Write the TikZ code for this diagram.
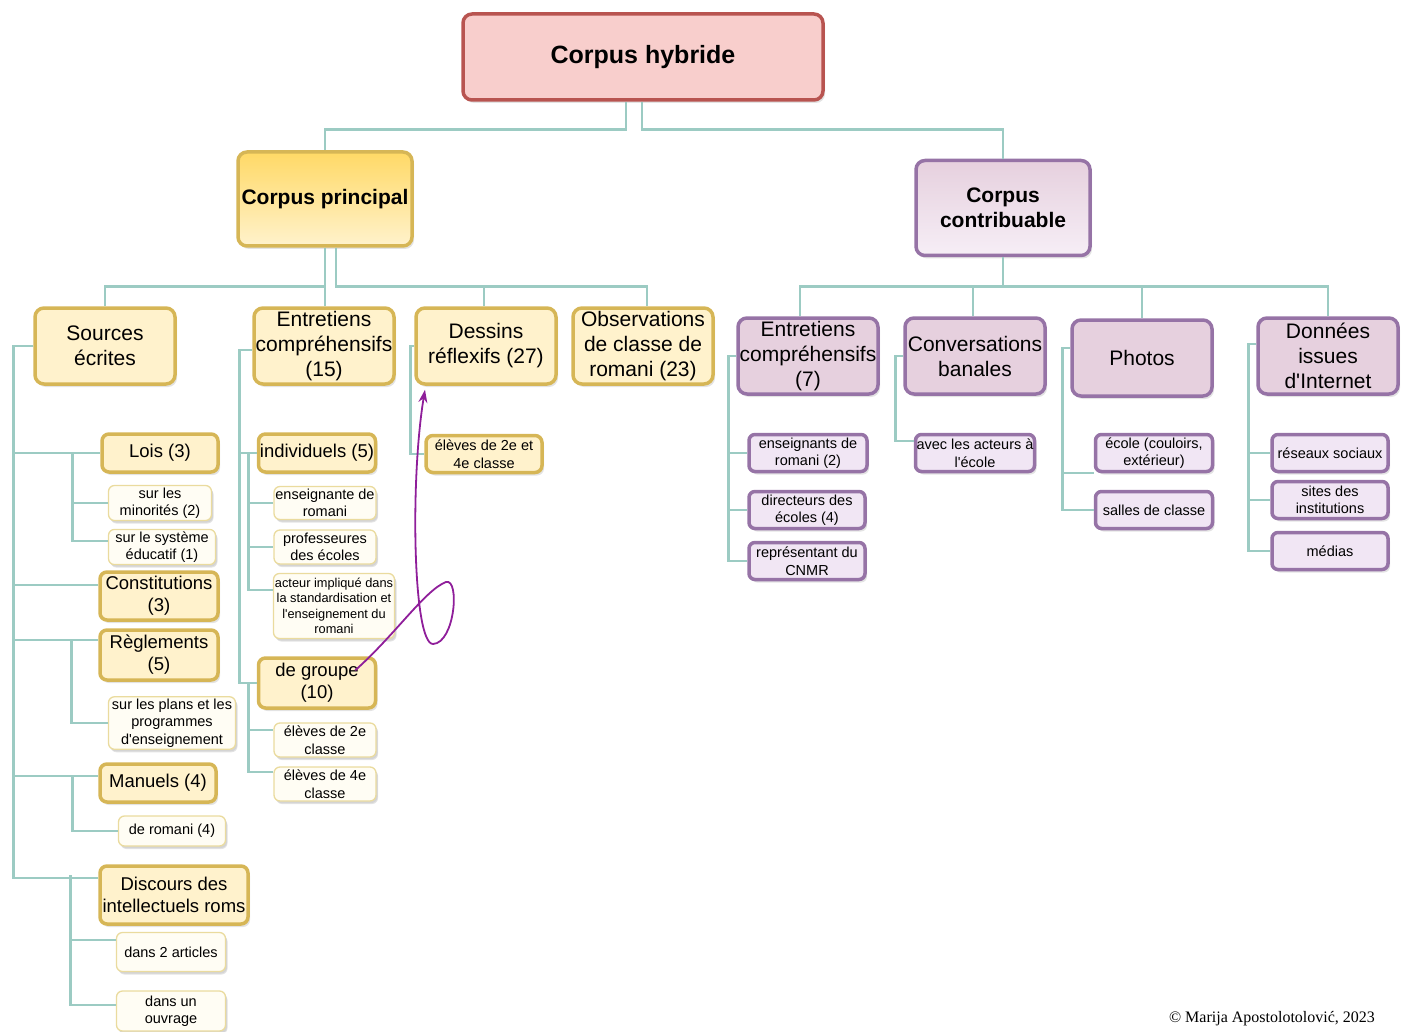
\documentclass[tikz,border=0pt]{standalone}
\usepackage{fontspec}
\setmainfont{Liberation Sans}
\newfontfamily\copyfont{Liberation Serif}
\usetikzlibrary{arrows.meta,shadows}
\definecolor{hybfill}{HTML}{F8CECC}
\definecolor{hybdraw}{HTML}{B85450}
\definecolor{yeltop}{HTML}{FFD966}
\definecolor{yelfill}{HTML}{FFF2CC}
\definecolor{yeldraw}{HTML}{D6B656}
\definecolor{leaffill}{HTML}{FFFDF4}
\definecolor{leafdraw}{HTML}{EADB9E}
\definecolor{purfill}{HTML}{E6D0DE}
\definecolor{purpale}{HTML}{F6EEF6}
\definecolor{purleaf}{HTML}{F1E6F4}
\definecolor{purdraw}{HTML}{9673A6}
\definecolor{linkc}{HTML}{9CCBC3}
\definecolor{loopc}{HTML}{8F1E9A}
\newcommand{\szroot}{\fontsize{25}{30}\selectfont}
\newcommand{\szmain}{\fontsize{21}{25}\selectfont}
\newcommand{\szmid}{\fontsize{18.5}{22}\selectfont}
\newcommand{\szleaf}{\fontsize{14.5}{17.5}\selectfont}
\newcommand{\sztiny}{\fontsize{12.8}{15.5}\selectfont}
\newcommand{\apos}{\textquotesingle}
\tikzset{
  x=1pt,y=-1pt,
  every node/.style={text=black,align=center,inner xsep=1pt,inner ysep=2pt},
  box/.style={rounded corners=9pt,line width=3.5pt,drop shadow={opacity=.22,shadow xshift=2pt,shadow yshift=-3pt}},
  rootbox/.style={box,draw=hybdraw,fill=hybfill,minimum width=360pt,minimum height=86pt,font=\szroot\bfseries},
  princbox/.style={box,draw=yeldraw,top color=yeltop,bottom color=yelfill,minimum width=174pt,minimum height=94pt,font=\szmain\bfseries},
  contribbox/.style={box,draw=purdraw,top color=purfill,bottom color=purpale,minimum width=174pt,minimum height=95pt,font=\szmain\bfseries},
  yelbox/.style={box,draw=yeldraw,fill=yelfill,minimum width=140pt,minimum height=76pt,font=\szmain},
  purbox/.style={box,draw=purdraw,fill=purfill,minimum width=140pt,minimum height=76pt,font=\szmain},
  midbox/.style={box,rounded corners=7pt,draw=yeldraw,fill=yelfill,font=\szmid},
  leafbox/.style={box,rounded corners=6pt,line width=1.3pt,draw=leafdraw,fill=leaffill,font=\szleaf,drop shadow={opacity=.15,shadow xshift=1.5pt,shadow yshift=-2pt}},
  purleafbox/.style={box,rounded corners=6pt,draw=purdraw,fill=purleaf,minimum width=116pt,minimum height=37pt,font=\szleaf},
  link/.style={draw=linkc,line width=2.8pt},
  looparr/.style={draw=loopc,line width=1.8pt,-{Stealth[length=13pt,width=9pt]}},
}

\begin{document}
\begin{tikzpicture}
\useasboundingbox (0,0) rectangle (1402,1032);

% top
\node[rootbox] (root) at (643,57) {Corpus hybride};
\node[princbox] (princ) at (325,199) {Corpus principal};
\node[contribbox] (contrib) at (1003,208) {Corpus\\contribuable};

% left: corpus principal
\node[yelbox] (src) at (105,346) {Sources\\écrites};
\node[yelbox] (entr) at (324,346) {Entretiens\\compréhensifs\\(15)};
\node[yelbox] (dess) at (486,346) {Dessins\\réflexifs (27)};
\node[yelbox] (obs) at (643,346) {Observations\\de classe de\\romani (23)};

\node[midbox,minimum width=116pt,minimum height=38pt] (lois) at (160,453) {Lois (3)};
\node[leafbox,minimum width=103pt,minimum height=34pt] (minor) at (160,503) {sur les\\minorités (2)};
\node[leafbox,minimum width=107pt,minimum height=31pt] (syst) at (162,547) {sur le système\\éducatif (1)};
\node[midbox,minimum width=118pt,minimum height=48pt] (const) at (159,596) {Constitutions\\(3)};
\node[midbox,minimum width=118pt,minimum height=50pt] (regl) at (159,655) {Règlements\\(5)};
\node[leafbox,minimum width=127pt,minimum height=50pt] (plans) at (172,723) {sur les plans et les\\programmes\\d\apos enseignement};
\node[midbox,minimum width=116pt,minimum height=38pt] (manu) at (158,783) {Manuels (4)};
\node[leafbox,minimum width=107pt,minimum height=30pt] (manrom) at (172,831) {de romani (4)};
\node[midbox,minimum width=148pt,minimum height=58pt] (disc) at (174,895) {Discours des\\intellectuels roms};
\node[leafbox,minimum width=109pt,minimum height=39pt] (art) at (171,952) {dans 2 articles};
\node[leafbox,minimum width=109pt,minimum height=40pt] (ouvr) at (171,1011) {dans un\\ouvrage};

\node[midbox,minimum width=117pt,minimum height=38pt] (indiv) at (317,453) {individuels (5)};
\node[leafbox,minimum width=102pt,minimum height=33pt] (ensr) at (325,503) {enseignante de\\romani};
\node[leafbox,minimum width=102pt,minimum height=34pt] (prof) at (325,547) {professeures\\des écoles};
\node[leafbox,minimum width=121pt,minimum height=65pt,font=\sztiny] (act) at (334,606) {acteur impliqué dans\\la standardisation et\\l\apos enseignement du\\romani};
\node[midbox,minimum width=117pt,minimum height=50pt] (grp) at (317,683) {de groupe\\(10)};
\node[leafbox,minimum width=102pt,minimum height=34pt] (el2) at (325,740) {élèves de 2e\\classe};
\node[leafbox,minimum width=102pt,minimum height=34pt] (el4) at (325,784) {élèves de 4e\\classe};

\node[midbox,font=\szleaf,minimum width=116pt,minimum height=37pt] (del) at (484,454) {élèves de 2e et\\4e classe};

% right: corpus contribuable
\node[purbox] (centr) at (808,356) {Entretiens\\compréhensifs\\(7)};
\node[purbox] (conv) at (975,356) {Conversations\\banales};
\node[purbox] (photo) at (1142,358) {Photos};
\node[purbox] (donn) at (1328,356) {Données\\issues\\d\apos Internet};

\node[purleafbox,minimum width=118pt] (ensg) at (808,453) {enseignants de\\romani (2)};
\node[purleafbox] (dir) at (807,510) {directeurs des\\écoles (4)};
\node[purleafbox] (rep) at (807,561) {représentant du\\CNMR};
\node[purleafbox,minimum width=119pt] (acteurs) at (975,453) {avec les acteurs à\\l\apos école};
\node[purleafbox,minimum width=117pt] (ecole) at (1154,453) {école (couloirs,\\extérieur)};
\node[purleafbox,minimum width=117pt] (salles) at (1154,510) {salles de classe};
\node[purleafbox] (res) at (1330,453) {réseaux sociaux};
\node[purleafbox] (sites) at (1330,500) {sites des\\institutions};
\node[purleafbox] (med) at (1330,551) {médias};

\node[font=\copyfont\fontsize{16}{19}\selectfont] (copy) at (1272,1019) {© Marija Apostolotolović, 2023};

% links: top
\draw[link] ([xshift=-17pt]root.south) -- ++(0,28) -| (princ.north);
\draw[link] ([xshift=-1pt]root.south) -- ++(0,28) -| (contrib.north);
\draw[link] (princ.south) -- ++(0,39) -| (src.north);
\draw[link] (princ.south) -- (princ.south |- entr.north);
\draw[link] ([xshift=11pt]princ.south) -- ++(0,39) -| ([xshift=-2pt]dess.north);
\draw[link] ([xshift=11pt]princ.south) -- ++(0,39) -| ([xshift=4pt]obs.north);
\draw[link] (contrib.south) -- ++(0,29) -| ([xshift=-8pt]centr.north);
\draw[link] (contrib.south) -- ++(0,29) -| ([xshift=-2pt]conv.north);
\draw[link] (contrib.south) -- ++(0,29) -| (photo.north);
\draw[link] (contrib.south) -- ++(0,29) -| (donn.north);

% links: sources
\draw[link] (src.west) -- ++(-20,0) |- (lois.west);
\draw[link] (src.west) -- ++(-20,0) |- ([yshift=11pt]const.west);
\draw[link] (src.west) -- ++(-20,0) |- ([yshift=15pt]regl.west);
\draw[link] (src.west) -- ++(-20,0) |- ([yshift=7pt]manu.west);
\draw[link] (src.west) -- ++(-20,0) |- ([yshift=17pt]disc.west);
\draw[link] ([xshift=-28pt]lois.west) |- (minor.west);
\draw[link] ([xshift=-28pt]lois.west) |- ([yshift=6pt]syst.west);
\draw[link] ([xshift=-27pt,yshift=15pt]regl.west) |- (plans.west);
\draw[link] ([xshift=-26pt,yshift=7pt]manu.west) |- (manrom.west);
\draw[link] ([xshift=-28pt,yshift=20pt]disc.west) |- ([yshift=12pt]art.west);
\draw[link] ([xshift=-28pt,yshift=20pt]disc.west) |- ([yshift=6pt]ouvr.west);

% links: entretiens, dessins
\draw[link] ([yshift=-4pt]entr.west) -- ++(-13,0) |- (indiv.west);
\draw[link] ([yshift=-4pt]entr.west) -- ++(-13,0) |- (grp.west);
\draw[link] ([xshift=-8pt]indiv.west) |- (ensr.west);
\draw[link] ([xshift=-8pt]indiv.west) |- (prof.west);
\draw[link] ([xshift=-8pt]indiv.west) |- ([yshift=16pt]act.west);
\draw[link] ([xshift=-8pt]grp.west) |- ([yshift=10pt]el2.west);
\draw[link] ([xshift=-8pt]grp.west) |- ([yshift=12pt]el4.west);
\draw[link] (dess.west) -- ++(-4,0) |- (del.west);

% links: right
\draw[link] (centr.west) -- ++(-8,0) |- (ensg.west);
\draw[link] (centr.west) -- ++(-8,0) |- (dir.west);
\draw[link] (centr.west) -- ++(-8,0) |- (rep.west);
\draw[link] (conv.west) -- ++(-8,0) |- ([yshift=12pt]acteurs.west);
\draw[link] ([yshift=10pt]photo.west) -- ++(-8,0) |- ([yshift=-20pt]ecole.west);
\draw[link] ([yshift=10pt]photo.west) -- ++(-8,0) |- (salles.west);
\draw[link] ([yshift=12pt]donn.west) -- ++(-8,0) |- (res.west);
\draw[link] ([yshift=12pt]donn.west) -- ++(-8,0) |- (sites.west);
\draw[link] ([yshift=12pt]donn.west) -- ++(-8,0) |- (med.west);

% purple loop
\draw[looparr] ([xshift=-22pt,yshift=-14pt]grp.north east)
  .. controls (395,635) and (425,590) .. (446,582)
  .. controls (460,578) and (455,643) .. (433,644)
  .. controls (413,644) and (410,480) .. ([xshift=-61pt,yshift=-4pt]dess.south);

\end{tikzpicture}
\end{document}
